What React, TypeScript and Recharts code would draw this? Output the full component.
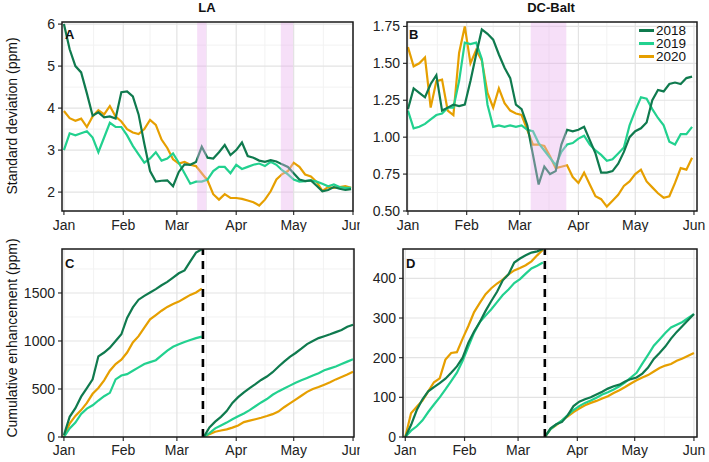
import React from 'react';
import { LineChart, Line, XAxis, YAxis, CartesianGrid, ReferenceArea, ReferenceLine } from 'recharts';

const FONT = '"Liberation Sans", Arial, Helvetica, sans-serif';
const C2018 = '#0f7a4e';
const C2019 = '#22d18f';
const C2020 = '#e69f00';
const years = ['2018', '2019', '2020'];
const yearColors = [C2018, C2019, C2020];

const monthTicks = [0, 31, 59, 90, 120, 151];
const monthLabels = ['Jan', 'Feb', 'Mar', 'Apr', 'May', 'Jun'];
const minorMonth = [15.5, 45, 74.5, 105, 135.5];

// Panels A/B: moving standard deviation, sampled every 3 days
const sdDays = [0, 3, 6, 9, 12, 15, 18, 21, 24, 27, 30, 33, 36, 39, 42, 45, 48, 51, 54, 57, 60, 63, 66, 69, 72, 75, 78, 81, 84, 87, 90, 93, 96, 99, 102, 105, 108, 111, 114, 117, 120, 123, 126, 129, 132, 135, 138, 141, 144, 147, 150];

const laSd2018 = [6.0, 5.4, 5.0, 4.85, 4.35, 3.82, 3.9, 3.78, 3.8, 3.75, 4.38, 4.4, 4.28, 3.85, 3.15, 2.5, 2.25, 2.27, 2.28, 2.14, 2.48, 2.66, 2.65, 2.72, 3.08, 2.82, 2.8, 2.95, 3.12, 2.88, 3.0, 3.18, 2.86, 2.82, 2.75, 2.72, 2.76, 2.73, 2.66, 2.6, 2.45, 2.3, 2.26, 2.28, 2.15, 2.02, 2.05, 2.12, 2.08, 2.05, 2.07];
const laSd2019 = [3.0, 3.4, 3.35, 3.4, 3.45, 3.3, 2.95, 3.3, 3.65, 3.55, 3.55, 3.35, 3.1, 2.9, 2.7, 2.8, 2.95, 2.75, 2.8, 2.92, 2.7, 2.45, 2.2, 2.25, 2.25, 2.3, 2.5, 2.6, 2.6, 2.45, 2.65, 2.55, 2.6, 2.65, 2.68, 2.62, 2.72, 2.65, 2.52, 2.42, 2.3, 2.25, 2.26, 2.28, 2.25, 2.2, 2.14, 2.18, 2.12, 2.1, 2.1];
const laSd2020 = [3.93, 3.76, 3.7, 3.75, 3.55, 3.8, 3.95, 3.85, 4.05, 3.8, 3.68, 3.5, 3.42, 3.38, 3.5, 3.72, 3.6, 3.25, 3.05, 2.78, 2.68, 2.72, 2.65, 2.62, 2.45, 2.28, 1.95, 1.82, 1.95, 1.86, 1.86, 1.84, 1.8, 1.76, 1.68, 1.82, 2.02, 2.3, 2.43, 2.5, 2.7, 2.6, 2.42, 2.37, 2.24, 2.03, 2.12, 2.1, 2.12, 2.14, 2.1];

const dcSd2018 = [1.19, 1.33, 1.3, 1.27, 1.36, 1.42, 1.18, 1.2, 1.22, 1.21, 1.22, 1.38, 1.56, 1.73, 1.7, 1.66, 1.56, 1.47, 1.4, 1.22, 1.19, 1.08, 0.88, 0.68, 0.8, 0.75, 0.77, 0.95, 1.05, 1.04, 1.05, 1.07, 0.98, 0.89, 0.76, 0.76, 0.77, 0.82, 0.9, 1.0, 1.04, 1.06, 1.1, 1.25, 1.32, 1.31, 1.36, 1.37, 1.36, 1.4, 1.41];
const dcSd2019 = [1.18, 1.06, 1.07, 1.09, 1.12, 1.15, 1.16, 1.2, 1.2, 1.38, 1.64, 1.63, 1.64, 1.53, 1.22, 1.07, 1.08, 1.07, 1.08, 1.07, 1.08, 1.05, 1.04, 0.96, 0.91, 0.86, 0.81, 0.9, 0.95, 0.96, 0.99, 1.01, 0.95, 0.91, 0.88, 0.84, 0.85, 0.89, 0.93, 1.08, 1.18, 1.27, 1.26, 1.19, 1.13, 1.08, 0.97, 0.95, 1.02, 1.02, 1.07];
const dcSd2020 = [1.61, 1.48, 1.5, 1.54, 1.2, 1.38, 1.39, 1.18, 1.15, 1.57, 1.75, 1.5, 1.59, 1.52, 1.3, 1.2, 1.33, 1.23, 1.18, 1.16, 1.15, 1.05, 0.95, 0.95, 0.94, 0.87, 0.79, 0.8, 0.81, 0.73, 0.69, 0.76, 0.68, 0.6, 0.58, 0.53, 0.57, 0.61, 0.67, 0.7, 0.75, 0.78, 0.7, 0.66, 0.62, 0.59, 0.6, 0.69, 0.79, 0.78, 0.86];

// Panels C/D: cumulative enhancement, before and after the break
const cumDaysPre = [0, 3, 6, 9, 12, 15, 18, 21, 24, 27, 30, 33, 36, 39, 42, 45, 48, 51, 54, 57, 60, 63, 66, 69, 72];
const cumDaysPost = [73, 76, 79, 82, 85, 88, 91, 94, 97, 100, 103, 106, 109, 112, 115, 118, 121, 124, 127, 130, 133, 136, 139, 142, 145, 148, 151];
const breakDay = 72.6;

const laCumPre2018 = [20, 210, 300, 420, 510, 600, 840, 880, 930, 1000, 1070, 1240, 1350, 1430, 1470, 1505, 1540, 1580, 1615, 1660, 1705, 1735, 1830, 1920, 1955];
const laCumPre2019 = [0, 90, 150, 240, 295, 330, 380, 425, 460, 600, 640, 655, 690, 725, 760, 780, 800, 850, 900, 940, 965, 990, 1010, 1030, 1045];
const laCumPre2020 = [0, 140, 220, 280, 355, 450, 510, 590, 690, 760, 805, 880, 985, 1050, 1140, 1225, 1270, 1315, 1355, 1385, 1410, 1445, 1480, 1505, 1545];
const laCumPost2018 = [0, 100, 160, 210, 270, 355, 415, 465, 510, 550, 594, 630, 675, 732, 785, 835, 875, 920, 968, 1000, 1030, 1050, 1070, 1092, 1115, 1148, 1170];
const laCumPost2019 = [0, 40, 90, 120, 150, 185, 215, 245, 280, 320, 360, 395, 440, 475, 505, 535, 565, 590, 615, 640, 665, 695, 715, 735, 760, 785, 810];
const laCumPost2020 = [0, 30, 55, 68, 80, 98, 120, 155, 170, 185, 200, 218, 238, 265, 310, 350, 390, 430, 470, 500, 520, 545, 570, 600, 625, 650, 680];

const dcCumPre2018 = [0, 30, 68, 95, 115, 126, 136, 147, 162, 178, 200, 238, 266, 290, 318, 343, 366, 395, 410, 440, 450, 458, 465, 468, 474];
const dcCumPre2019 = [0, 16, 27, 42, 63, 82, 100, 120, 141, 162, 192, 228, 263, 290, 306, 322, 340, 358, 372, 388, 398, 412, 425, 432, 440];
const dcCumPre2020 = [0, 60, 76, 92, 115, 138, 148, 195, 212, 214, 248, 280, 315, 338, 360, 375, 387, 397, 410, 420, 426, 433, 443, 458, 472];
const dcCumPost2018 = [0, 22, 32, 38, 55, 78, 89, 95, 100, 107, 114, 122, 128, 132, 140, 146, 150, 160, 175, 197, 212, 228, 248, 265, 280, 295, 310];
const dcCumPost2019 = [0, 20, 32, 42, 55, 68, 78, 86, 92, 99, 107, 113, 120, 128, 138, 150, 162, 185, 207, 230, 246, 262, 276, 283, 290, 300, 310];
const dcCumPost2020 = [0, 20, 30, 42, 52, 63, 72, 80, 86, 91, 97, 103, 111, 118, 126, 135, 143, 150, 156, 165, 174, 180, 184, 192, 198, 205, 212];

// Shaded periods (day of year)
const laBands = [[69.6, 74.4], [113.3, 119.7]];
const dcBands = [[64.8, 83.6]];

function buildSd(a: number[], b: number[], c: number[]) {
  return sdDays.map((d, i) => ({ d, y2018: a[i], y2019: b[i], y2020: c[i] }));
}

function buildCum(p18: number[], p19: number[], p20: number[], q18: number[], q19: number[], q20: number[]) {
  const pre = cumDaysPre.map((d, i) => ({ d, y2018: p18[i], y2019: p19[i], y2020: p20[i] }));
  const gap = [{ d: breakDay, y2018: null, y2019: null, y2020: null }];
  const post = cumDaysPost.map((d, i) => ({ d, y2018: q18[i], y2019: q19[i], y2020: q20[i] }));
  return [...pre, ...gap, ...post];
}

const laSdData = buildSd(laSd2018, laSd2019, laSd2020);
const dcSdData = buildSd(dcSd2018, dcSd2019, dcSd2020);
const laCumData = buildCum(laCumPre2018, laCumPre2019, laCumPre2020, laCumPost2018, laCumPost2019, laCumPost2020);
const dcCumData = buildCum(dcCumPre2018, dcCumPre2019, dcCumPre2020, dcCumPost2018, dcCumPost2019, dcCumPost2020);

type PanelProps = {
  data: any[];
  left: number;
  top: number;
  width: number;
  height: number;
  margin: { top: number; right: number; bottom: number; left: number };
  yAxisWidth: number;
  xAxisHeight: number;
  xTickMargin: number;
  xDomain: [number, number];
  yDomain: [number, number];
  yTicks: number[];
  yMinor: number[];
  yFmt?: (v: number) => string;
  bands?: number[][];
  dashX?: number;
};

function Panel(p: PanelProps) {
  const tickStyle = { fontSize: 14, fill: '#222', fontFamily: FONT };
  return (
    <div style={{ position: 'absolute', left: p.left, top: p.top }}>
      <LineChart width={p.width} height={p.height} data={p.data} margin={p.margin}>
        <CartesianGrid stroke="#f2f2f2" strokeWidth={1} verticalValues={minorMonth} horizontalValues={p.yMinor} />
        <CartesianGrid stroke="#e3e3e3" strokeWidth={1.2} verticalValues={monthTicks} horizontalValues={p.yTicks} />
        <XAxis
          dataKey="d"
          type="number"
          domain={p.xDomain}
          allowDataOverflow
          ticks={monthTicks}
          interval={0}
          tickFormatter={(v: number) => monthLabels[monthTicks.indexOf(v)]}
          height={p.xAxisHeight}
          axisLine={false}
          tickLine={{ stroke: '#333', strokeWidth: 1.2 }}
          tickSize={4}
          tickMargin={p.xTickMargin}
          tick={tickStyle}
        />
        <YAxis
          type="number"
          domain={p.yDomain}
          allowDataOverflow
          ticks={p.yTicks}
          interval={0}
          tickFormatter={p.yFmt}
          width={p.yAxisWidth}
          axisLine={false}
          tickLine={{ stroke: '#333', strokeWidth: 1.2 }}
          tickSize={4}
          tickMargin={3}
          tick={tickStyle}
        />
        <Line dataKey="y2020" stroke={C2020} strokeWidth={2.2} dot={false} isAnimationActive={false} connectNulls={false} />
        <Line dataKey="y2019" stroke={C2019} strokeWidth={2.2} dot={false} isAnimationActive={false} connectNulls={false} />
        <Line dataKey="y2018" stroke={C2018} strokeWidth={2.2} dot={false} isAnimationActive={false} connectNulls={false} />
        {(p.bands || []).map((b, i) => (
          <ReferenceArea key={i} x1={b[0]} x2={b[1]} y1={p.yDomain[0]} y2={p.yDomain[1]} fill="#e8aeee" fillOpacity={0.4} stroke="none" ifOverflow="hidden" zIndex={1000} />
        ))}
        {p.dashX !== undefined && (
          <ReferenceLine x={p.dashX} stroke="#000" strokeWidth={2.6} strokeDasharray="8 6" zIndex={1000} />
        )}
        <ReferenceArea x1={p.xDomain[0]} x2={p.xDomain[1]} y1={p.yDomain[0]} y2={p.yDomain[1]} fill="none" stroke="#1a1a1a" strokeWidth={1.5} ifOverflow="visible" zIndex={1100} />
      </LineChart>
    </div>
  );
}

const txt: React.CSSProperties = { position: 'absolute', fontFamily: FONT, color: '#111', whiteSpace: 'nowrap' };

export default function App() {
  return (
    <div style={{ position: 'absolute', left: 0, top: 0, width: 709, height: 462, background: '#fff', overflow: 'hidden' }}>
      <Panel
        data={laSdData}
        left={0}
        top={0}
        width={360}
        height={232}
        margin={{ top: 22, right: 7, bottom: 0, left: 0 }}
        yAxisWidth={62}
        xAxisHeight={21}
        xTickMargin={5}
        xDomain={[-1, 151]}
        yDomain={[1.55, 6.05]}
        yTicks={[2, 3, 4, 5, 6]}
        yMinor={[2.5, 3.5, 4.5, 5.5]}
        bands={laBands}
      />
      <Panel
        data={dcSdData}
        left={360}
        top={0}
        width={349}
        height={232}
        margin={{ top: 22, right: 12, bottom: 0, left: 0 }}
        yAxisWidth={47}
        xAxisHeight={21}
        xTickMargin={5}
        xDomain={[-0.5, 152.6]}
        yDomain={[0.5, 1.78]}
        yTicks={[0.5, 0.75, 1.0, 1.25, 1.5, 1.75]}
        yMinor={[0.625, 0.875, 1.125, 1.375, 1.625]}
        yFmt={(v: number) => v.toFixed(2)}
        bands={dcBands}
      />
      <Panel
        data={laCumData}
        left={0}
        top={232}
        width={360}
        height={230}
        margin={{ top: 17, right: 6, bottom: 0, left: 0 }}
        yAxisWidth={62}
        xAxisHeight={25}
        xTickMargin={4}
        xDomain={[-1, 151.5]}
        yDomain={[0, 1958]}
        yTicks={[0, 500, 1000, 1500]}
        yMinor={[250, 750, 1250, 1750]}
        dashX={breakDay}
      />
      <Panel
        data={dcCumData}
        left={360}
        top={232}
        width={349}
        height={230}
        margin={{ top: 17, right: 12, bottom: 0, left: 0 }}
        yAxisWidth={43}
        xAxisHeight={25}
        xTickMargin={4}
        xDomain={[-1.2, 152.6]}
        yDomain={[0, 474]}
        yTicks={[0, 100, 200, 300, 400]}
        yMinor={[50, 150, 250, 350, 450]}
        dashX={breakDay + 0.4}
      />

      <div style={{ ...txt, left: 207, top: 1, transform: 'translateX(-50%)', fontSize: 13, fontWeight: 'bold', lineHeight: '14px' }}>LA</div>
      <div style={{ ...txt, left: 551, top: 1, transform: 'translateX(-50%)', fontSize: 13, fontWeight: 'bold', lineHeight: '14px' }}>DC-Balt</div>

      <div style={{ ...txt, left: 12, top: 116, transform: 'translate(-50%, -50%) rotate(-90deg)', fontSize: 14, lineHeight: '16px' }}>Standard deviation (ppm)</div>
      <div style={{ ...txt, left: 12, top: 338, transform: 'translate(-50%, -50%) rotate(-90deg)', fontSize: 14, lineHeight: '16px' }}>Cumulative enhancement (ppm)</div>

      <div style={{ ...txt, left: 65, top: 28, fontSize: 13, fontWeight: 'bold', lineHeight: '14px' }}>A</div>
      <div style={{ ...txt, left: 409, top: 28, fontSize: 13, fontWeight: 'bold', lineHeight: '14px' }}>B</div>
      <div style={{ ...txt, left: 65, top: 257, fontSize: 13, fontWeight: 'bold', lineHeight: '14px' }}>C</div>
      <div style={{ ...txt, left: 406, top: 257, fontSize: 13, fontWeight: 'bold', lineHeight: '14px' }}>D</div>

      <div style={{ position: 'absolute', left: 639, top: 24 }}>
        {years.map((y, i) => (
          <div key={y} style={{ display: 'flex', alignItems: 'center', height: 13 }}>
            <div style={{ width: 15, height: 3, background: yearColors[i], marginRight: 2 }} />
            <span style={{ fontFamily: FONT, fontSize: 13.5, lineHeight: '13px', color: '#111' }}>{y}</span>
          </div>
        ))}
      </div>
    </div>
  );
}
